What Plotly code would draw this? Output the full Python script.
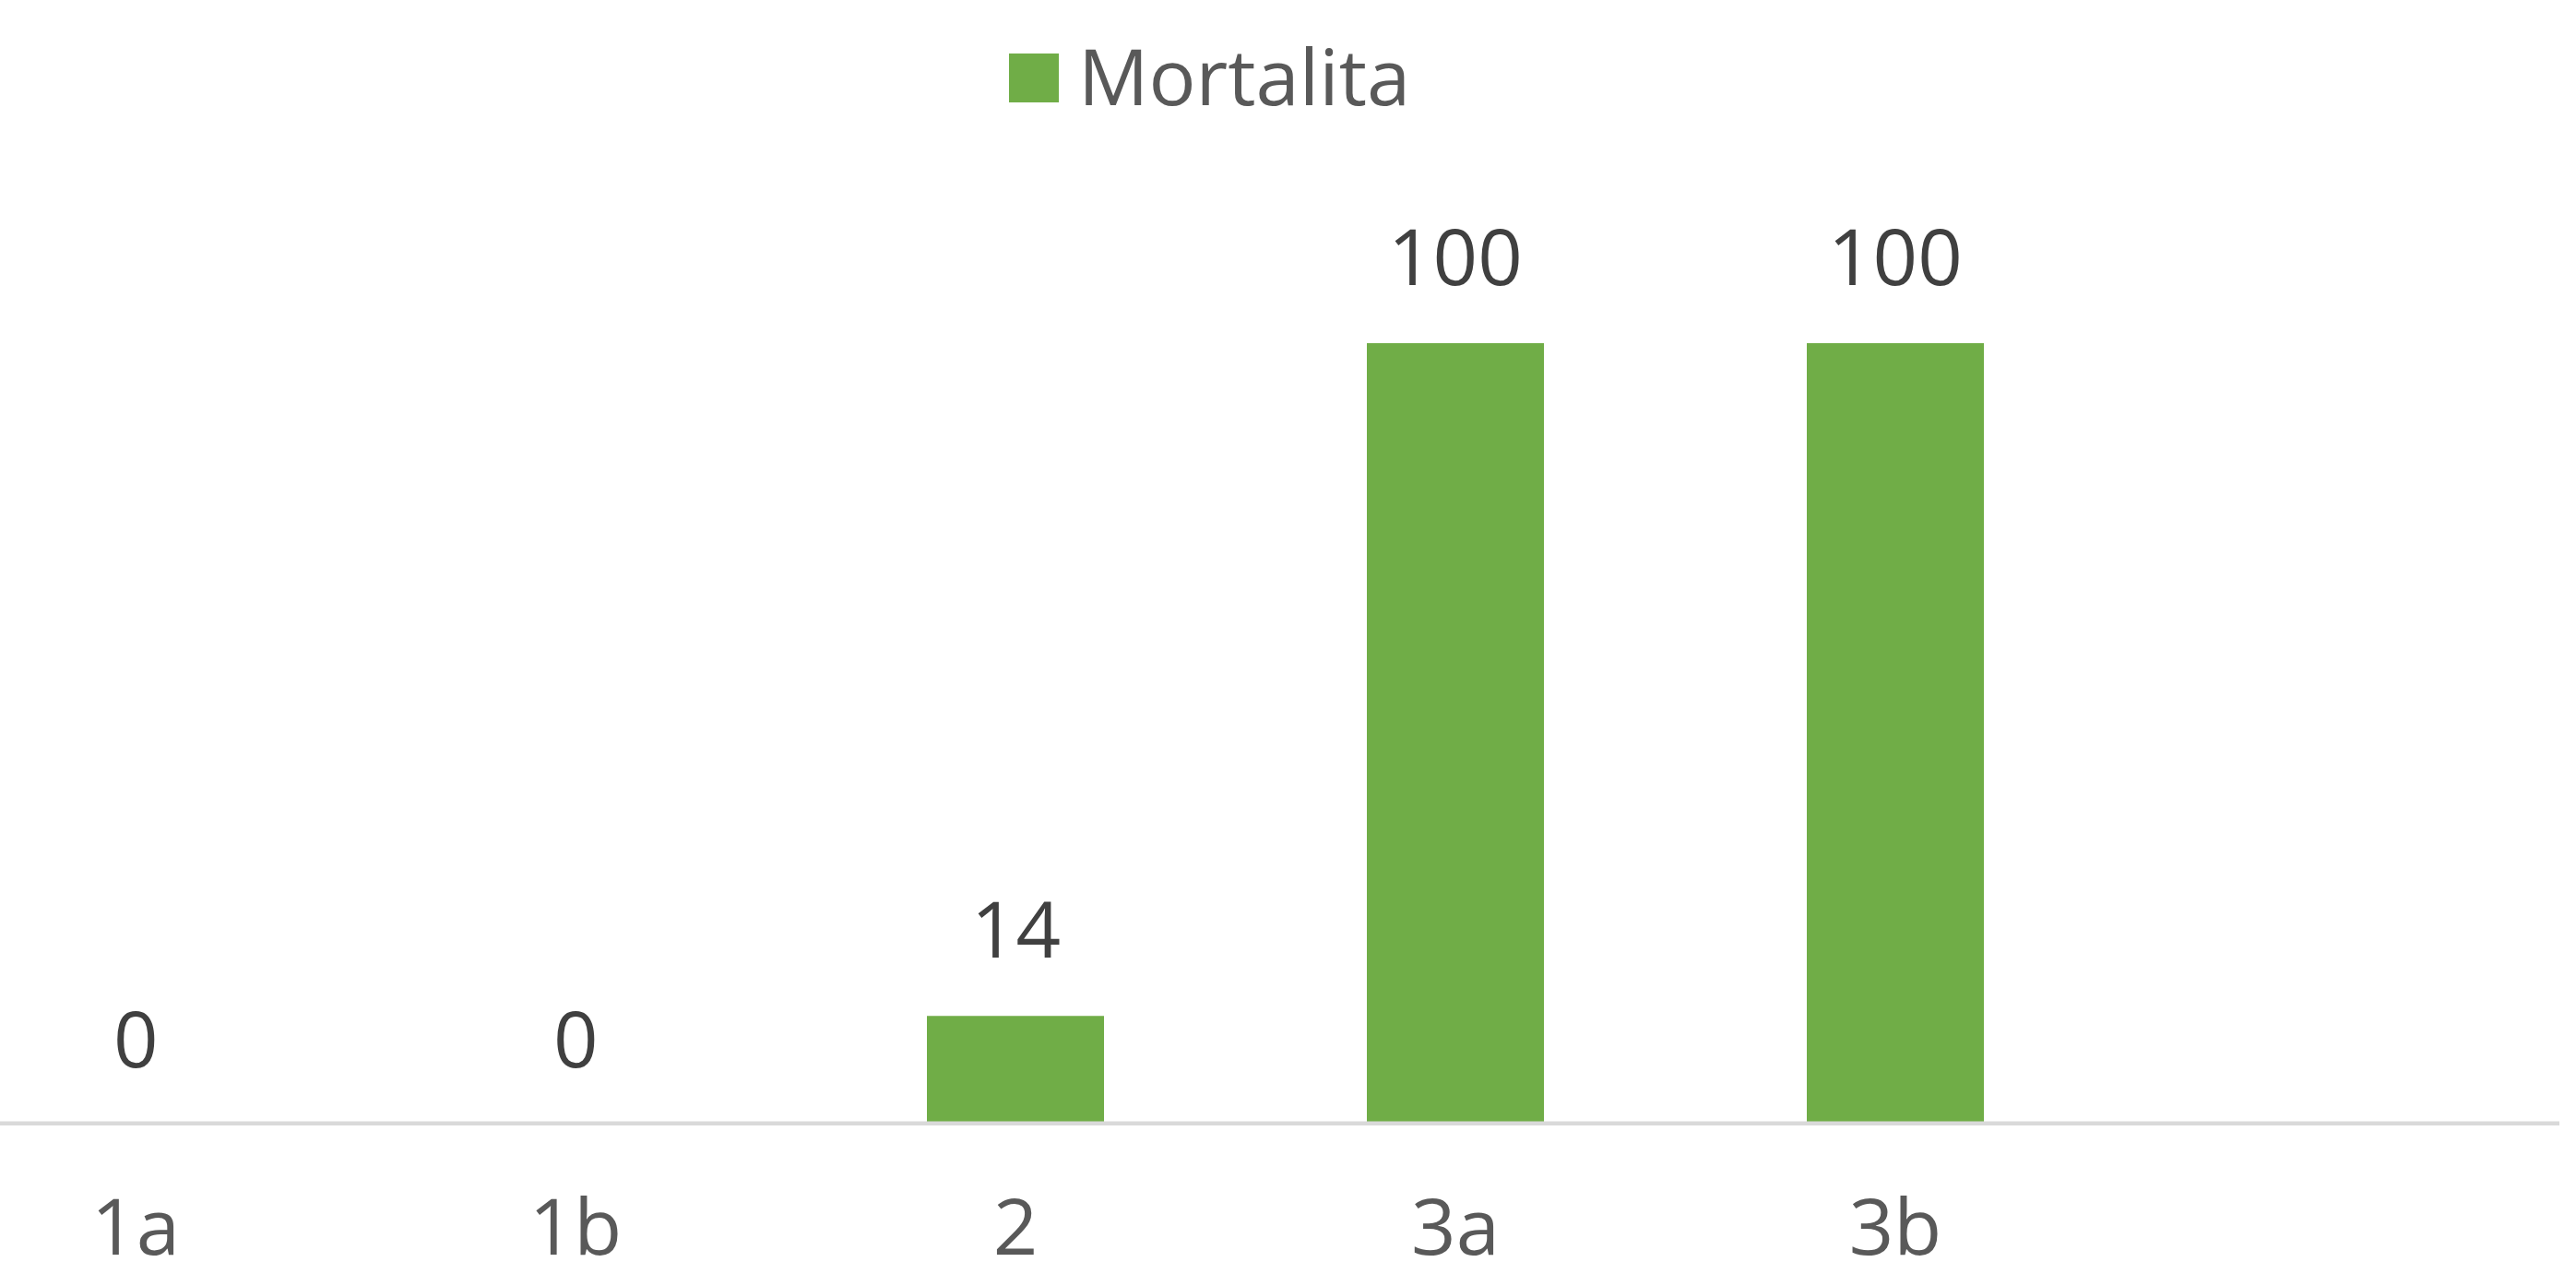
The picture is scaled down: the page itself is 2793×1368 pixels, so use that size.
import plotly.graph_objects as go

categories = ["1a", "1b", "2", "3a", "3b"]
mortalita = [0, 0, 14, 100, 100]
series_name = "Mortalita"

W, H = 2793, 1368
ML, MR, MT, MB = 0, 18, 200, 148
plot_w = W - ML - MR
plot_h = H - MT - MB

GREEN = "#70AD47"
FONT = "Open Sans, Noto Sans, sans-serif"

fig = go.Figure()
fig.add_trace(go.Bar(
    x=categories, y=mortalita, name=series_name,
    marker=dict(color=GREEN, line=dict(width=0)),
    showlegend=False, hoverinfo="x+y",
))

# data labels
for c, v in zip(categories, mortalita):
    fig.add_annotation(
        x=c, y=v, text=str(v), showarrow=False,
        xanchor="center", yanchor="bottom", yshift=36,
        font=dict(family=FONT, size=85, color="#404040"),
    )

# category axis baseline (drawn above bars)
fig.add_shape(type="line", xref="paper", yref="y", x0=0, x1=1, y0=0, y1=0,
              line=dict(color="#D9D9D9", width=9), layer="above")

# legend (swatch + text)
def px_to_paper_x(px):
    return (px - ML) / plot_w

def py_to_paper_y(py):
    return (H - MB - py) / plot_h

fig.add_shape(type="rect", xref="paper", yref="paper",
              x0=px_to_paper_x(1094), x1=px_to_paper_x(1148),
              y0=py_to_paper_y(111), y1=py_to_paper_y(58),
              fillcolor=GREEN, line=dict(width=0))
fig.add_annotation(
    xref="paper", yref="paper", x=px_to_paper_x(1167), y=py_to_paper_y(81),
    text=series_name, showarrow=False, xanchor="left", yanchor="middle",
    font=dict(family=FONT, size=85, color="#595959"),
)

step = 477.0
x0c = 147.0
fig.update_layout(
    width=W, height=H,
    margin=dict(l=ML, r=MR, t=MT, b=MB, pad=0, autoexpand=False),
    paper_bgcolor="white", plot_bgcolor="white",
    bargap=1 - 192 / step,
    showlegend=False,
    font=dict(family=FONT),
    xaxis=dict(
        type="category", automargin=False,
        range=[(0 - x0c) / step, (plot_w - x0c) / step],
        showgrid=False, zeroline=False, showline=False,
        ticks="outside", ticklen=37, tickcolor="rgba(0,0,0,0)",
        tickfont=dict(family=FONT, size=85, color="#595959"),
        fixedrange=True,
    ),
    yaxis=dict(
        range=[0, plot_h / 8.48], automargin=False,
        visible=False, showgrid=False, zeroline=False, fixedrange=True,
    ),
)

fig.write_html(
    "out.html",
    config={"displayModeBar": False},
    post_script="document.body.style.margin='0';document.body.style.overflow='hidden';",
)
